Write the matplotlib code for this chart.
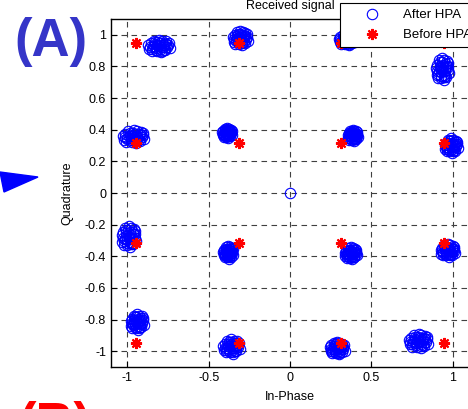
import matplotlib
matplotlib.use("Agg")
import matplotlib.pyplot as plt
from matplotlib.patches import Polygon
import numpy as np

plt.rcParams['font.family'] = ['Liberation Sans', 'DejaVu Sans']
plt.rcParams['axes.unicode_minus'] = False

# 16-QAM levels before the amplifier
qam_levels = [-0.949, -0.316, 0.316, 0.949]

# cluster centres after the HPA and their spread
after_cx = [-0.805, -0.305, 0.35, 0.937,
            -0.96, -0.386, 0.385, 0.99,
            -0.99, -0.38, 0.374, 0.97,
            -0.94, -0.36, 0.29, 0.79]
after_cy = [0.93, 0.98, 0.97, 0.784,
            0.357, 0.38, 0.365, 0.30,
            -0.275, -0.375, -0.38, -0.363,
            -0.815, -0.97, -0.98, -0.935]
after_sx = [0.065, 0.045, 0.05, 0.04,
            0.065, 0.03, 0.03, 0.04,
            0.045, 0.03, 0.037, 0.045,
            0.04, 0.05, 0.045, 0.06]
after_sy = [0.04, 0.045, 0.035, 0.07,
            0.04, 0.03, 0.035, 0.045,
            0.065, 0.04, 0.037, 0.04,
            0.05, 0.045, 0.04, 0.045]
# hand placed spread pattern inside one cluster (unit box)
blob_dx = [0, 0.5, -0.4, 0.2, -0.6, 0.8, -0.8, 0.3, -0.2, 0.9, -0.9, 0.6,
           -0.5, 0.1, -0.3, 0.4, 0.7, -0.7, 1.0, -1.0, 0.0, 0.2, -0.1, 0.55,
           -0.35, 0.35, -0.15, 0.15, 0.65, -0.65, 0.45, -0.45, 0.85, -0.85,
           0.25, -0.25]
blob_dy = [0, 0.2, 0.3, -0.5, -0.2, -0.1, 0.4, 0.8, -0.8, 0.5, -0.5, -0.7,
           0.8, 0.4, -0.3, -0.2, 0.7, -0.8, -0.4, 0.1, 1.0, -1.0, 0.6, 0.45,
           0.6, 0.1, 0.15, -0.15, 0.25, -0.45, -0.6, 0.05, 0.2, -0.15,
           -0.75, -0.6]
# one stray sample at the origin
stray_x = [0.0]
stray_y = [0.0]

ax_x, ax_y = [], []
for cx, cy, sx, sy in zip(after_cx, after_cy, after_sx, after_sy):
    for dx, dy in zip(blob_dx, blob_dy):
        ax_x.append(cx + dx * sx)
        ax_y.append(cy + dy * sy)
ax_x += stray_x
ax_y += stray_y

bx = [x for y in qam_levels[::-1] for x in qam_levels]
by = [y for y in qam_levels[::-1] for x in qam_levels]

fig = plt.figure(figsize=(4.68, 4.09), dpi=100)
ax = fig.add_axes([111 / 468, 42 / 409, 358 / 468, 348 / 409])

ax.plot(ax_x, ax_y, 'o', ls='none', mfc='none', mec='blue', ms=7.5, mew=0.8,
        label='After HPA', zorder=3)
ax.plot(bx, by, marker=(8, 2, 0), ls='none', color='red', ms=8, mew=1.5,
        label='Before HPA', zorder=4)

ax.set_xlim(-1.1, 1.1)
ax.set_ylim(-1.1, 1.1)
ax.set_xticks([-1, -0.5, 0, 0.5, 1])
ax.set_xticklabels(['-1', '-0.5', '0', '0.5', '1'])
yt = [-1, -0.8, -0.6, -0.4, -0.2, 0, 0.2, 0.4, 0.6, 0.8, 1]
ax.set_yticks(yt)
ax.set_yticklabels(['-1', '-0.8', '-0.6', '-0.4', '-0.2', '0', '0.2', '0.4', '0.6', '0.8', '1'])
ax.tick_params(direction='in', length=4, labelsize=9, width=0.8)
ax.grid(True, color='0.25', ls=(0, (5, 4)), lw=0.8)
ax.set_axisbelow(True)
for s in ax.spines.values():
    s.set_linewidth(1.0)

ax.set_xlabel('In-Phase', fontsize=9, labelpad=5)
ax.set_ylabel('Quadrature', fontsize=9, labelpad=8)
ax.set_title('Received signal', fontsize=9, pad=7)

leg = ax.legend(loc='upper left', bbox_to_anchor=(0.64, 1.046), fontsize=9.5,
                fancybox=False, framealpha=1, edgecolor='black',
                borderpad=0.45, handlelength=4.0, handletextpad=0.3,
                labelspacing=0.6, borderaxespad=0)
leg.get_frame().set_linewidth(0.8)
leg.set_zorder(10)

# fragments of the neighbouring panels
fig.text(14 / 468, 1 - 56 / 409, '(A)', color='#3535c8', fontsize=38,
         fontweight='bold')
fig.text(18 / 468, 1 - 440 / 409, '(B)', color='red', fontsize=38,
         fontweight='bold')
fig.patches.append(Polygon([[0, 1 - 172 / 409], [38 / 468, 1 - 177 / 409],
                            [4 / 468, 1 - 192 / 409]], closed=True,
                           transform=fig.transFigure, color='blue'))

fig.savefig('out.png', dpi=100)
